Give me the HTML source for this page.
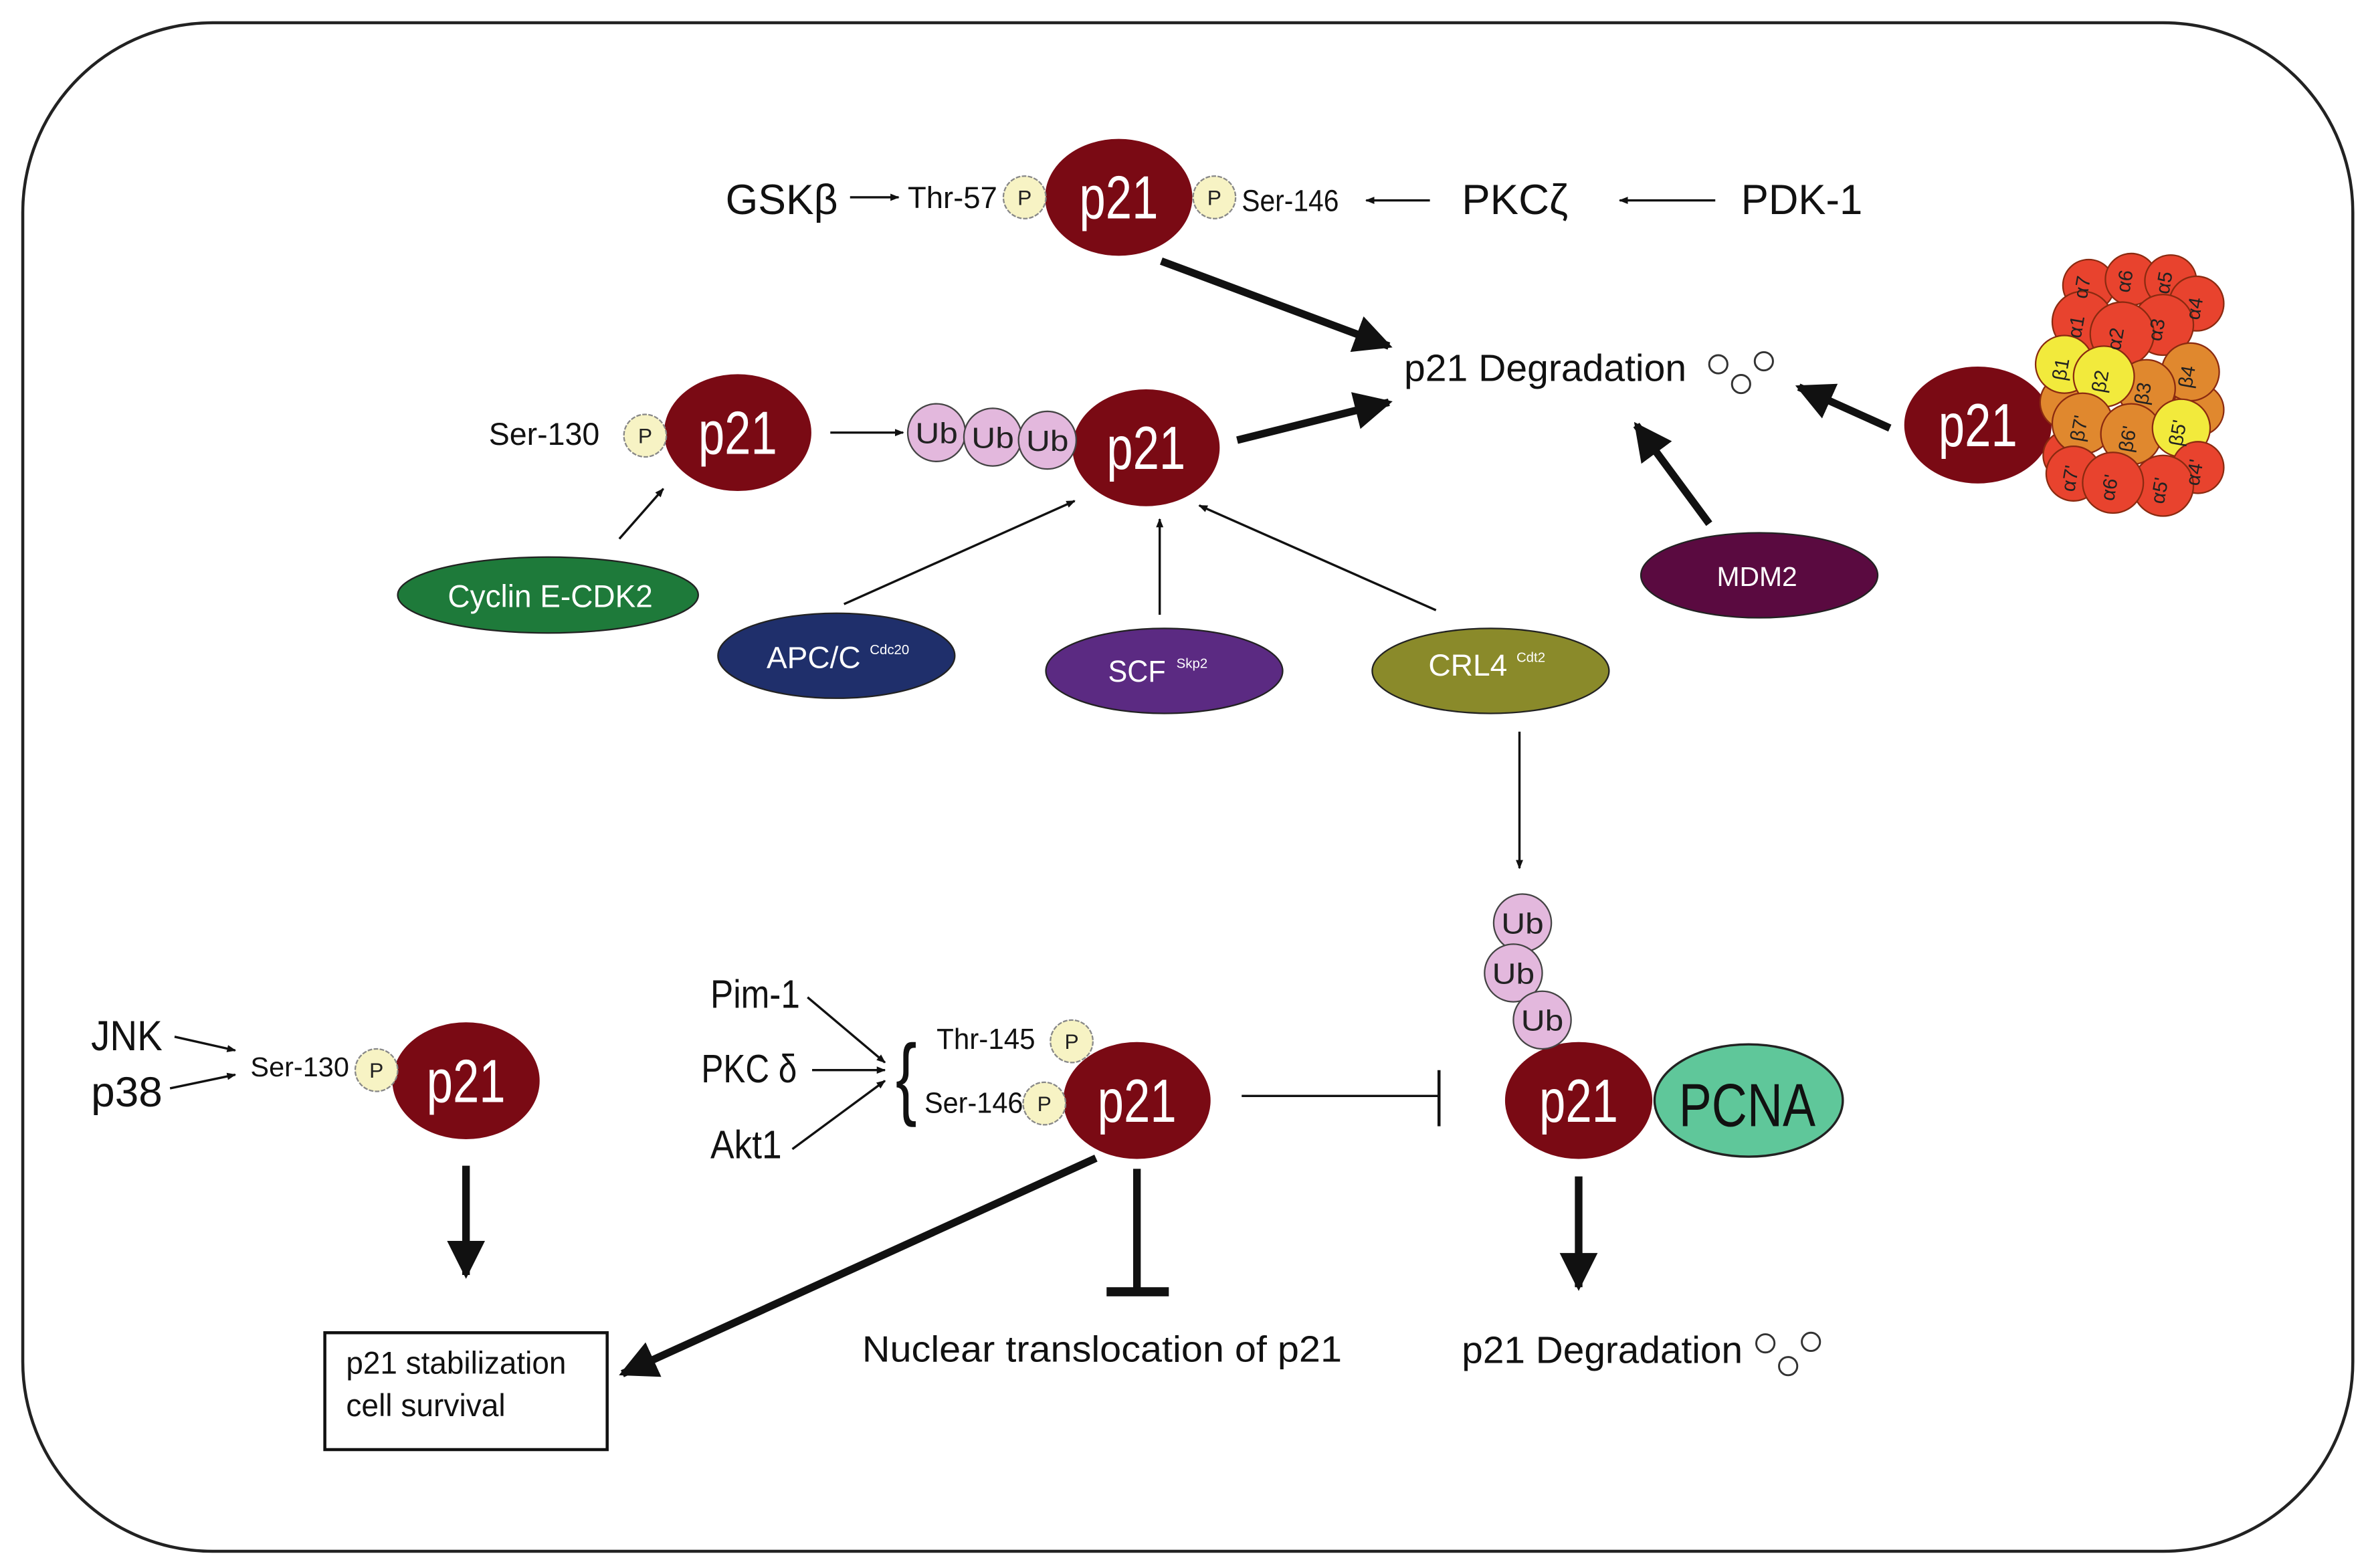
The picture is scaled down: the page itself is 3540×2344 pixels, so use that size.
<!DOCTYPE html>
<html><head><meta charset="utf-8"><style>
html,body{margin:0;padding:0;background:#fff;}
svg{display:block;}
text{font-family:"Liberation Sans",sans-serif;}
</style></head><body>
<svg width="3540" height="2344" viewBox="0 0 1560 1033" preserveAspectRatio="none" xmlns="http://www.w3.org/2000/svg">
<defs>
<marker id="a" viewBox="0 0 10 10" refX="9" refY="5" markerWidth="6" markerHeight="6" orient="auto" markerUnits="userSpaceOnUse"><path d="M0,1 L10,5 L0,9 Z" fill="#111"/></marker>
<marker id="A" viewBox="0 0 10 10" refX="9" refY="5" markerWidth="5" markerHeight="5" orient="auto"><path d="M0,0 L10,5 L0,10 Z" fill="#111"/></marker>
</defs>
<rect x="15" y="15" width="1535" height="1007" rx="125" ry="125" fill="#fff" stroke="#222" stroke-width="2"/>

<g stroke="#7a0a14" stroke-width="1" fill="#7a0a14">
<ellipse cx="737" cy="130" rx="48" ry="38"/>
<ellipse cx="486" cy="285" rx="48" ry="38"/>
<ellipse cx="755" cy="295" rx="48" ry="38"/>
<ellipse cx="1303" cy="280" rx="48" ry="38"/>
<ellipse cx="307" cy="712" rx="48" ry="38"/>
<ellipse cx="749" cy="725" rx="48" ry="38"/>
<ellipse cx="1040" cy="725" rx="48" ry="38"/>
</g>
<ellipse cx="1152" cy="725" rx="62" ry="37" fill="#5fc79a" stroke="#222" stroke-width="1.5"/>
<g fill="#fff" font-size="40">
<text x="711" y="144" textLength="52" lengthAdjust="spacingAndGlyphs">p21</text>
<text x="460" y="299" textLength="52" lengthAdjust="spacingAndGlyphs">p21</text>
<text x="729" y="309" textLength="52" lengthAdjust="spacingAndGlyphs">p21</text>
<text x="1277" y="294" textLength="52" lengthAdjust="spacingAndGlyphs">p21</text>
<text x="281" y="726" textLength="52" lengthAdjust="spacingAndGlyphs">p21</text>
<text x="723" y="739" textLength="52" lengthAdjust="spacingAndGlyphs">p21</text>
<text x="1014" y="739" textLength="52" lengthAdjust="spacingAndGlyphs">p21</text>
</g>
<text x="1106" y="742" font-size="40" fill="#111" textLength="90" lengthAdjust="spacingAndGlyphs">PCNA</text>

<!-- P circles -->
<g fill="#f7f3c4" stroke="#888" stroke-width="1" stroke-dasharray="3,1">
<circle cx="675" cy="130" r="14"/><circle cx="800" cy="130" r="14"/><circle cx="425" cy="287" r="14"/>
<circle cx="248" cy="705" r="14"/><circle cx="706" cy="686" r="14"/><circle cx="688" cy="727" r="14"/>
</g>
<g font-size="14" text-anchor="middle" fill="#222">
<text x="675" y="135">P</text><text x="800" y="135">P</text><text x="425" y="292">P</text>
<text x="248" y="710">P</text><text x="706" y="691">P</text><text x="688" y="732">P</text>
</g>

<!-- Ub -->
<g fill="#e3b8dd" stroke="#444" stroke-width="1">
<circle cx="617" cy="285" r="19"/><circle cx="654" cy="288" r="19"/><circle cx="690" cy="290" r="19"/>
<circle cx="1003" cy="608" r="19"/><circle cx="997" cy="641" r="19"/><circle cx="1016" cy="672" r="19"/>
</g>
<g font-size="19" text-anchor="middle" fill="#222">
<text x="617" y="292" textLength="28" lengthAdjust="spacingAndGlyphs">Ub</text>
<text x="654" y="295" textLength="28" lengthAdjust="spacingAndGlyphs">Ub</text>
<text x="690" y="297" textLength="28" lengthAdjust="spacingAndGlyphs">Ub</text>
<text x="1003" y="615" textLength="28" lengthAdjust="spacingAndGlyphs">Ub</text>
<text x="997" y="648" textLength="28" lengthAdjust="spacingAndGlyphs">Ub</text>
<text x="1016" y="679" textLength="28" lengthAdjust="spacingAndGlyphs">Ub</text>
</g>

<!-- texts -->
<g fill="#111">
<text x="478" y="141" font-size="28" textLength="74" lengthAdjust="spacingAndGlyphs">GSKβ</text>
<text x="598" y="137" font-size="20" textLength="59" lengthAdjust="spacingAndGlyphs">Thr-57</text>
<text x="818" y="139" font-size="20" textLength="64" lengthAdjust="spacingAndGlyphs">Ser-146</text>
<text x="963" y="141" font-size="28" textLength="70" lengthAdjust="spacingAndGlyphs">PKCζ</text>
<text x="1147" y="141" font-size="28" textLength="80" lengthAdjust="spacingAndGlyphs">PDK-1</text>
<text x="925" y="251" font-size="25" textLength="186" lengthAdjust="spacingAndGlyphs">p21 Degradation</text>
<text x="322" y="293" font-size="21" textLength="73" lengthAdjust="spacingAndGlyphs">Ser-130</text>
<text x="963" y="898" font-size="25" textLength="185" lengthAdjust="spacingAndGlyphs">p21 Degradation</text>
<text x="568" y="897" font-size="24" textLength="316" lengthAdjust="spacingAndGlyphs">Nuclear translocation of p21</text>
<text x="60" y="692" font-size="28" textLength="47" lengthAdjust="spacingAndGlyphs">JNK</text>
<text x="60" y="729" font-size="28" textLength="47" lengthAdjust="spacingAndGlyphs">p38</text>
<text x="165" y="709" font-size="18" textLength="65" lengthAdjust="spacingAndGlyphs">Ser-130</text>
<text x="617" y="691" font-size="19" textLength="65" lengthAdjust="spacingAndGlyphs">Thr-145</text>
<text x="609" y="733" font-size="19" textLength="65" lengthAdjust="spacingAndGlyphs">Ser-146</text>
<text x="468" y="664" font-size="26" textLength="59" lengthAdjust="spacingAndGlyphs">Pim-1</text>
<text x="462" y="713" font-size="26" textLength="63" lengthAdjust="spacingAndGlyphs">PKC δ</text>
<text x="468" y="763" font-size="26" textLength="47" lengthAdjust="spacingAndGlyphs">Akt1</text>
<text x="590" y="730" font-size="60" font-family="Liberation Serif, serif" textLength="14" lengthAdjust="spacingAndGlyphs">{</text>
</g>
<g fill="none" stroke="#333" stroke-width="1.3">
<circle cx="1132" cy="240" r="6"/><circle cx="1147" cy="253" r="6"/><circle cx="1162" cy="238" r="6"/>
<circle cx="1163" cy="885" r="6"/><circle cx="1178" cy="900" r="6"/><circle cx="1193" cy="884" r="6"/>
</g>

<!-- box -->
<rect x="214" y="878" width="186" height="77" fill="#fff" stroke="#111" stroke-width="2"/>
<text x="228" y="905" font-size="21" fill="#111" textLength="145" lengthAdjust="spacingAndGlyphs">p21 stabilization</text>
<text x="228" y="933" font-size="21" fill="#111" textLength="105" lengthAdjust="spacingAndGlyphs">cell survival</text>

<!-- enzyme ellipses -->
<ellipse cx="361" cy="392" rx="99" ry="25" fill="#1e7a3a" stroke="#222"/>
<ellipse cx="551" cy="432" rx="78" ry="28" fill="#1f2f6b" stroke="#222"/>
<ellipse cx="767" cy="442" rx="78" ry="28" fill="#5b2a82" stroke="#222"/>
<ellipse cx="982" cy="442" rx="78" ry="28" fill="#8a8a2a" stroke="#222"/>
<ellipse cx="1159" cy="379" rx="78" ry="28" fill="#5a0a40" stroke="#222"/>
<g fill="#fff">
<text x="295" y="400" font-size="21" textLength="135" lengthAdjust="spacingAndGlyphs">Cyclin E-CDK2</text>
<text x="505" y="440" font-size="20" textLength="62" lengthAdjust="spacingAndGlyphs">APC/C</text>
<text x="573" y="431" font-size="9">Cdc20</text>
<text x="730" y="449" font-size="20" textLength="38" lengthAdjust="spacingAndGlyphs">SCF</text>
<text x="775" y="440" font-size="9">Skp2</text>
<text x="941" y="445" font-size="20" textLength="52" lengthAdjust="spacingAndGlyphs">CRL4</text>
<text x="999" y="436" font-size="9">Cdt2</text>
<text x="1131" y="386" font-size="18" textLength="53" lengthAdjust="spacingAndGlyphs">MDM2</text>
</g>

<!-- thin arrows -->
<g stroke="#111" stroke-width="1.5" fill="none" marker-end="url(#a)">
<line x1="560" y1="130" x2="592" y2="130"/>
<line x1="942" y1="132" x2="900" y2="132"/>
<line x1="1130" y1="132" x2="1067" y2="132"/>
<line x1="547" y1="285" x2="595" y2="285"/>
<line x1="408" y1="355" x2="437" y2="322"/>
<line x1="556" y1="398" x2="708" y2="330"/>
<line x1="764" y1="405" x2="764" y2="342"/>
<line x1="946" y1="402" x2="790" y2="333"/>
<line x1="1001" y1="482" x2="1001" y2="572"/>
<line x1="115" y1="683" x2="155" y2="692"/>
<line x1="112" y1="717" x2="155" y2="708"/>
<line x1="532" y1="657" x2="583" y2="700"/>
<line x1="535" y1="705" x2="583" y2="705"/>
<line x1="522" y1="757" x2="583" y2="712"/>
</g>
<!-- thick arrows -->
<g stroke="#111" stroke-width="5" fill="none" marker-end="url(#A)">
<line x1="765" y1="172" x2="915" y2="228"/>
<line x1="815" y1="290" x2="915" y2="265"/>
<line x1="1126" y1="345" x2="1078" y2="280"/>
<line x1="1245" y1="282" x2="1185" y2="255"/>
<line x1="1040" y1="775" x2="1040" y2="848"/>
<line x1="722" y1="763" x2="410" y2="905"/>
<line x1="307" y1="768" x2="307" y2="840"/>
</g>
<!-- inhibitions -->
<line x1="818" y1="722" x2="948" y2="722" stroke="#111" stroke-width="1.5"/>
<line x1="948" y1="705" x2="948" y2="742" stroke="#111" stroke-width="2"/>
<line x1="749" y1="770" x2="749" y2="850" stroke="#111" stroke-width="5"/>
<line x1="729" y1="851" x2="770" y2="851" stroke="#111" stroke-width="6"/>

<!-- proteasome -->
<g stroke="#8a2a10" stroke-width="1">
<circle cx="1376" cy="188" r="17" fill="#e8432e"/><circle cx="1404" cy="184" r="17" fill="#e8432e"/><circle cx="1430" cy="185" r="17" fill="#e8432e"/>
<circle cx="1362" cy="265" r="18" fill="#e0882e"/><circle cx="1448" cy="270" r="17" fill="#e0882e"/><circle cx="1362" cy="300" r="16" fill="#e8432e"/>
<circle cx="1447" cy="200" r="18" fill="#e8432e"/>
<circle cx="1372" cy="212" r="20" fill="#e8432e"/><circle cx="1425" cy="214" r="20" fill="#e8432e"/><circle cx="1398" cy="220" r="21" fill="#e8432e"/>
<circle cx="1443" cy="245" r="19" fill="#e0882e"/><circle cx="1414" cy="256" r="19" fill="#e0882e"/>
<circle cx="1360" cy="240" r="19" fill="#f2ea3c"/><circle cx="1386" cy="248" r="20" fill="#f2ea3c"/>
<circle cx="1372" cy="279" r="20" fill="#e0882e"/><circle cx="1404" cy="286" r="20" fill="#e0882e"/><circle cx="1437" cy="282" r="19" fill="#f2ea3c"/>
<circle cx="1448" cy="308" r="17" fill="#e8432e"/><circle cx="1366" cy="312" r="18" fill="#e8432e"/><circle cx="1425" cy="320" r="20" fill="#e8432e"/><circle cx="1392" cy="318" r="20" fill="#e8432e"/>
</g>
<g font-size="13" fill="#222" font-family="Liberation Serif, serif" text-anchor="middle">
<text transform="translate(1376,190) rotate(-80)">α7</text><text transform="translate(1404,186) rotate(-80)">α6</text><text transform="translate(1430,187) rotate(-80)">α5</text>
<text transform="translate(1372,216) rotate(-80)">α1</text><text transform="translate(1398,224) rotate(-80)">α2</text><text transform="translate(1425,218) rotate(-80)">α3</text><text transform="translate(1450,204) rotate(-80)">α4</text>
<text transform="translate(1362,244) rotate(-80)">β1</text><text transform="translate(1388,252) rotate(-80)">β2</text><text transform="translate(1416,260) rotate(-80)">β3</text><text transform="translate(1445,249) rotate(-80)">β4</text>
<text transform="translate(1374,283) rotate(-80)">β7'</text><text transform="translate(1406,290) rotate(-80)">β6'</text><text transform="translate(1439,286) rotate(-80)">β5'</text>
<text transform="translate(1368,316) rotate(-80)">α7'</text><text transform="translate(1394,322) rotate(-80)">α6'</text><text transform="translate(1427,324) rotate(-80)">α5'</text><text transform="translate(1450,312) rotate(-80)">α4'</text>
</g>
</svg>
</body></html>
